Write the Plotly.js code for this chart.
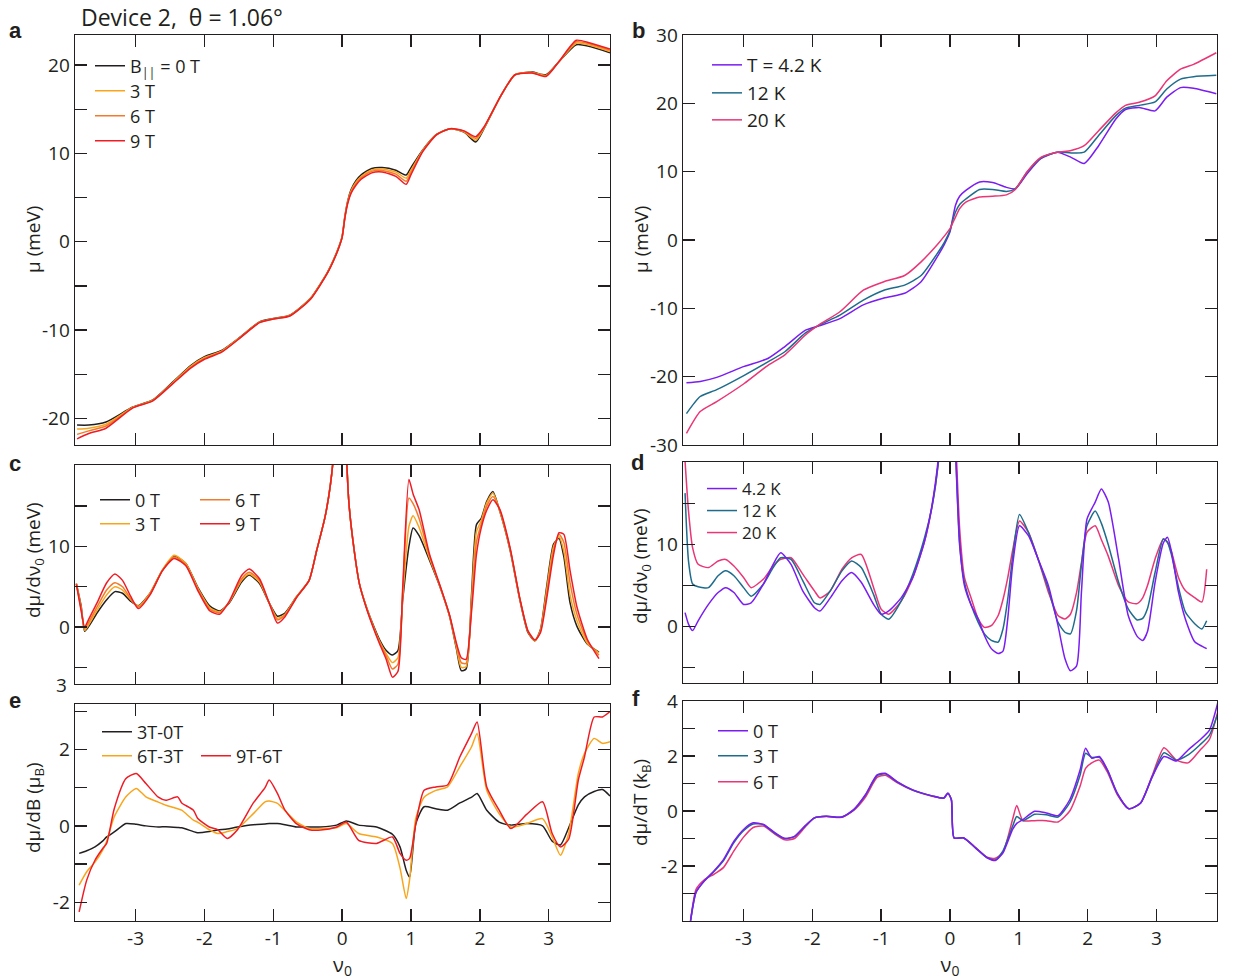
<!DOCTYPE html>
<html>
<head>
<meta charset="utf-8">
<script src="https://cdn.plot.ly/plotly-3.0.1.min.js"></script>
<style>html,body{margin:0;padding:0;background:#fff;} #chart{width:1233px;height:980px;}</style>
</head>
<body>
<div id="chart"></div>
<script>
// ---------------- DATA ----------------
// Panel a: mu vs nu0 for several in-plane fields
const nuA = [-3.85,-3.68,-3.43,-3.04,-2.75,-2.45,-2.2,-2.0,-1.75,-1.5,-1.2,-1.0,-0.76,-0.46,-0.21,-0.1,-0.04,0,0.04,0.08,0.13,0.2,0.28,0.43,0.58,0.78,0.93,1.0,1.17,1.37,1.57,1.77,1.94,2.06,2.31,2.51,2.76,2.96,3.15,3.4,3.6,3.89];
const muA_0T = [-20.75,-20.75,-20.4,-18.7,-17.9,-15.8,-14.0,-13.0,-12.3,-10.9,-9.06,-8.68,-8.3,-6.4,-3.4,-1.6,-0.4,0.6,2.9,4.6,5.9,6.9,7.6,8.3,8.4,8.1,7.55,8.4,10.4,12.15,12.8,12.4,11.3,12.8,16.6,18.9,19.2,18.9,20.4,22.3,22.1,21.4];
const muA_3T = [-21.2,-21.1,-20.65,-18.73,-17.93,-15.87,-14.1,-13.1,-12.37,-10.93,-9.09,-8.7,-8.33,-6.43,-3.43,-1.63,-0.43,0.57,2.83,4.5,5.77,6.73,7.4,8.13,8.23,7.9,7.2,8.1,10.33,12.13,12.8,12.45,11.5,12.87,16.6,18.9,19.17,18.83,20.4,22.47,22.23,21.53];
const muA_6T = [-21.8,-21.4,-20.85,-18.77,-17.97,-15.93,-14.2,-13.2,-12.43,-10.97,-9.12,-8.73,-8.37,-6.47,-3.47,-1.67,-0.47,0.53,2.77,4.4,5.63,6.57,7.25,7.97,8.07,7.65,6.85,7.85,10.27,12.12,12.8,12.5,11.7,12.93,16.6,18.9,19.13,18.77,20.4,22.63,22.37,21.67];
const muA_9T = [-22.3,-21.7,-21.1,-18.8,-18.0,-16.0,-14.3,-13.3,-12.5,-11.0,-9.15,-8.75,-8.4,-6.5,-3.5,-1.7,-0.5,0.5,2.7,4.3,5.5,6.4,7.1,7.8,7.9,7.4,6.5,7.6,10.2,12.1,12.8,12.55,11.9,13.0,16.6,18.9,19.1,18.7,20.4,22.8,22.5,21.8];

// Panel b: mu vs nu0 for several temperatures
const nuB = [-3.83,-3.63,-3.39,-2.99,-2.64,-2.40,-2.10,-1.90,-1.60,-1.26,-0.96,-0.66,-0.42,-0.17,-0.08,0,0.04,0.08,0.14,0.23,0.43,0.62,0.82,0.95,1.12,1.32,1.56,1.76,1.95,2.16,2.41,2.55,2.75,2.98,3.15,3.35,3.54,3.87];
const muB_4K = [-20.9,-20.7,-20.1,-18.5,-17.3,-15.6,-13.2,-12.55,-11.5,-9.5,-8.5,-7.8,-6.1,-2.2,-0.6,1.2,3.2,5.1,6.4,7.25,8.5,8.4,7.7,7.5,9.7,11.9,12.85,12.1,11.2,13.8,17.7,19.1,19.4,18.9,20.9,22.3,22.2,21.4];
const muB_12K = [-25.4,-22.9,-21.9,-19.8,-17.8,-16.35,-13.6,-12.45,-11.0,-8.8,-7.35,-6.6,-5.2,-1.75,-0.3,1.4,2.9,4.1,5.2,6.0,7.4,7.4,7.1,7.5,9.9,12.0,12.85,12.75,12.85,15.3,18.2,19.3,19.7,20.2,22.1,23.55,23.9,24.1];
const muB_20K = [-28.3,-25.1,-23.65,-21.0,-18.3,-16.8,-13.9,-12.4,-10.5,-7.35,-6.1,-5.2,-3.2,-0.5,0.6,1.65,2.5,3.35,4.6,5.55,6.3,6.4,6.6,7.4,10.0,12.1,12.85,13.1,13.8,16.0,18.6,19.7,20.15,21.1,23.3,25.0,25.7,27.4];

// Panel c: dmu/dnu0 for several in-plane fields
const nuC = [-3.86,-3.79,-3.74,-3.68,-3.56,-3.42,-3.30,-3.19,-3.07,-2.96,-2.79,-2.61,-2.44,-2.27,-2.10,-1.92,-1.78,-1.64,-1.46,-1.35,-1.2,-1.06,-0.94,-0.83,-0.66,-0.48,-0.37,-0.25,-0.17,-0.1,-0.04,0.02,0.06,0.10,0.175,0.25,0.35,0.44,0.54,0.64,0.73,0.81,0.88,0.97,1.03,1.12,1.27,1.42,1.56,1.66,1.73,1.8,1.88,1.95,2.02,2.1,2.19,2.29,2.44,2.58,2.7,2.8,2.88,2.97,3.07,3.15,3.22,3.31,3.41,3.56,3.73];
const dC_0T = [5.4,2.6,-0.5,0.1,1.75,3.4,4.4,4.2,3.2,2.65,4.2,7.06,8.8,7.9,5.0,2.6,2.0,3.0,5.6,6.45,5.4,3.0,1.35,1.75,3.8,5.8,9.5,13.6,17.7,24,35,35,22,15.2,9.5,5.4,2.56,0.5,-1.5,-2.9,-3.45,-2.9,3.4,10.0,12.3,11.3,8.25,5.0,1.35,-2.7,-5.4,-5.2,4.2,12.7,13.5,15.6,16.8,14.35,9.5,3.4,-0.7,-1.7,-0.3,5.0,10.3,11.0,8.7,3.0,0.1,-2.1,-3.1];
const dC_3T = [5.4,2.4,-0.4,0.3,2.1,4.0,5.0,4.6,3.4,2.6,4.2,7.1,8.9,7.9,4.9,2.4,1.9,3.1,5.8,6.6,5.6,3.0,1.1,1.6,3.8,5.8,9.5,13.6,17.7,24,35,35,22,15.2,9.5,5.4,2.5,0.4,-1.7,-3.3,-4.4,-3.8,3.8,12.5,13.8,12.3,8.5,5.1,1.4,-2.5,-5.0,-4.9,3.5,11.8,13.2,15.4,16.6,14.4,9.6,3.5,-0.6,-1.7,-0.4,4.6,10.0,11.2,9.4,4.0,0.8,-2.0,-3.2];
const dC_6T = [5.3,2.2,-0.2,0.6,2.5,4.6,5.5,5.0,3.5,2.5,4.1,7.0,8.7,7.7,4.8,2.2,1.8,3.1,6.0,6.8,5.8,3.0,0.9,1.5,3.7,5.8,9.5,13.6,17.7,24,35,35,22,15.2,9.5,5.4,2.5,0.3,-1.8,-3.6,-5.2,-4.6,4.4,16.0,15.3,13.4,8.8,5.1,1.4,-2.2,-4.4,-4.5,2.8,10.5,12.8,15.0,16.2,14.5,9.7,3.5,-0.5,-1.6,-0.5,4.0,9.5,11.5,10.5,5.5,1.6,-1.7,-3.5];
const dC_9T = [5.3,2.0,0.0,1.0,3.0,5.5,6.6,5.8,3.8,2.3,4.0,7.0,8.5,7.6,4.6,2.0,1.6,3.2,6.4,7.2,6.0,3.0,0.5,1.3,3.7,5.8,9.5,13.6,17.7,24,35,35,22,15.2,9.5,5.4,2.4,0.2,-2.0,-4.0,-6.2,-5.5,5.0,18.3,16.5,14.5,9.0,5.2,1.5,-2.0,-3.8,-4.0,2.0,9.0,12.3,14.5,15.8,14.6,9.8,3.6,-0.5,-1.6,-0.7,3.5,9.0,11.7,11.5,7.0,2.5,-1.5,-3.9];

// Panel d: dmu/dnu0 for several temperatures
const nuD = [-3.85,-3.8,-3.74,-3.66,-3.51,-3.37,-3.26,-3.14,-3.0,-2.89,-2.71,-2.57,-2.46,-2.31,-2.14,-1.97,-1.89,-1.74,-1.57,-1.43,-1.29,-1.11,-1.0,-0.89,-0.71,-0.54,-0.37,-0.26,-0.17,-0.08,0.0,0.07,0.14,0.21,0.31,0.41,0.5,0.6,0.7,0.77,0.84,0.91,1.01,1.14,1.28,1.43,1.57,1.67,1.75,1.84,1.91,1.99,2.11,2.2,2.3,2.45,2.59,2.72,2.8,2.87,2.98,3.1,3.16,3.22,3.32,3.42,3.56,3.66,3.73];
const dD_4K = [1.7,0.3,-0.5,0.7,2.7,4.15,4.75,4.15,2.7,2.9,5.2,7.6,9.0,7.6,4.35,2.3,1.9,3.5,5.6,6.6,5.4,2.7,1.5,1.9,3.5,6.0,10.4,14.9,20.5,30,40,24,10.3,5.0,2.56,0.93,-1.1,-2.7,-3.3,-3.0,1.0,7.5,12.3,11.1,8.25,5.0,0.1,-3.9,-5.4,-4.8,4.2,13.1,15.2,16.8,15.2,8.25,1.34,-1.2,-1.7,-0.6,5.4,10.2,10.9,9.1,4.2,0.93,-1.9,-2.4,-2.7];
const dD_12K = [16.3,8.0,5.2,4.85,4.75,6.2,6.8,6.2,4.75,3.7,5.2,7.2,8.4,8.2,5.6,2.9,2.7,4.35,6.8,8.0,7.2,3.9,1.5,0.9,3.1,6.4,10.85,14.7,20,30,40,24,9.9,5.4,2.56,0.5,-0.9,-1.7,-1.9,-0.3,3.4,8.5,13.7,11.5,8.25,4.6,0.5,-0.7,-0.9,2.0,7.5,12.3,14.1,12.6,10.0,5.4,2.15,0.8,1.0,2.2,6.6,10.7,10.3,8.7,4.8,1.8,0.3,-0.3,0.7];
const dD_20K = [20.2,14.1,9.6,7.6,7.2,8.0,8.2,7.4,6.0,4.75,5.8,7.4,8.2,8.4,6.4,4.35,3.5,4.35,7.0,8.4,8.8,4.75,2.1,1.5,3.1,6.0,10.4,14.7,20,30,40,26,12.0,6.0,3.4,0.93,-0.1,0.1,1.34,3.3,6.0,9.3,12.9,11.5,8.25,4.2,1.34,0.93,1.5,4.2,7.8,11.5,12.3,10.6,8.6,5.0,3.0,2.8,3.5,5.0,8.25,10.7,10.3,9.1,6.0,4.4,3.5,3.0,7.0];

// Panel e: dmu/dB
const nuE = [-3.82,-3.71,-3.59,-3.48,-3.42,-3.31,-3.14,-2.99,-2.85,-2.67,-2.56,-2.39,-2.33,-2.16,-2.1,-1.93,-1.81,-1.67,-1.52,-1.29,-1.12,-1.06,-0.94,-0.83,-0.66,-0.48,-0.31,-0.08,0.06,0.24,0.5,0.73,0.84,0.93,0.98,1.07,1.19,1.36,1.53,1.71,1.88,1.96,2.1,2.28,2.45,2.68,2.91,3.05,3.17,3.29,3.43,3.52,3.66,3.78,3.89];
const dE_3m0 = [-0.72,-0.65,-0.55,-0.4,-0.29,-0.16,0.06,0.04,0.0,-0.03,-0.02,-0.04,-0.05,-0.15,-0.18,-0.15,-0.11,-0.08,-0.03,0.03,0.05,0.06,0.06,0.03,-0.03,-0.03,-0.03,0.02,0.13,0.02,-0.03,-0.22,-0.55,-1.16,-1.34,0.06,0.5,0.45,0.41,0.6,0.75,0.85,0.41,0.1,0.02,0.06,0.0,-0.4,-0.5,-0.05,0.55,0.76,0.9,0.95,0.78];
const dE_6m3 = [-1.55,-1.2,-0.95,-0.64,-0.4,0.24,0.76,0.98,0.76,0.62,0.54,0.45,0.41,0.15,0.1,-0.1,-0.2,-0.15,-0.07,0.32,0.63,0.65,0.59,0.4,0.1,-0.07,-0.07,-0.05,0.06,-0.2,-0.29,-0.46,-1.1,-1.9,-1.4,0.2,0.75,0.93,1.02,1.55,2.07,2.42,0.93,0.32,-0.03,0.06,0.19,-0.29,-0.77,-0.2,1.37,1.9,2.29,2.16,2.2];
const dE_9m6 = [-2.25,-1.42,-0.9,-0.6,-0.46,0.45,1.24,1.37,1.11,0.75,0.67,0.76,0.6,0.41,0.2,-0.03,-0.1,-0.33,-0.1,0.6,1.0,1.2,0.85,0.41,0.05,-0.1,-0.11,-0.03,0.1,-0.38,-0.46,-0.29,-0.72,-0.9,-0.85,0.06,0.93,1.02,1.07,1.81,2.42,2.72,1.02,0.41,-0.07,0.3,0.63,-0.2,-0.55,-0.35,1.2,1.81,2.85,2.85,2.99];

// Panel f: dmu/dT
const nuF = [-3.77,-3.69,-3.57,-3.43,-3.29,-3.14,-3.0,-2.86,-2.71,-2.54,-2.4,-2.26,-2.11,-1.97,-1.8,-1.57,-1.4,-1.23,-1.06,-0.94,-0.77,-0.54,-0.26,-0.09,-0.03,0.02,0.06,0.2,0.37,0.54,0.66,0.77,0.91,0.97,1.06,1.23,1.4,1.57,1.74,1.89,1.97,2.06,2.17,2.29,2.43,2.6,2.77,2.94,3.11,3.29,3.46,3.63,3.77,3.9];
const dF_0T = [-3.99,-2.96,-2.54,-2.18,-1.76,-1.1,-0.67,-0.43,-0.49,-0.8,-1.0,-0.92,-0.55,-0.25,-0.19,-0.22,0.05,0.59,1.31,1.37,1.07,0.77,0.55,0.47,0.65,0.41,-0.98,-0.98,-1.34,-1.7,-1.8,-1.52,-0.67,-0.45,-0.31,-0.01,-0.07,-0.17,0.41,1.49,2.28,1.92,1.98,1.49,0.65,0.08,0.29,1.25,1.98,1.82,2.22,2.58,2.94,4.02];
const dF_3T = [-3.99,-2.95,-2.55,-2.2,-1.8,-1.15,-0.72,-0.47,-0.5,-0.82,-1.0,-0.93,-0.56,-0.25,-0.19,-0.22,0.04,0.57,1.29,1.35,1.06,0.76,0.55,0.47,0.65,0.41,-0.98,-0.98,-1.34,-1.7,-1.78,-1.45,-0.55,-0.2,-0.35,-0.12,-0.14,-0.22,0.3,1.3,2.1,1.95,1.95,1.47,0.64,0.08,0.29,1.25,2.12,1.85,2.04,2.4,2.76,3.6];
const dF_6T = [-3.99,-2.85,-2.5,-2.3,-2.05,-1.45,-0.95,-0.6,-0.55,-0.85,-1.05,-1.0,-0.6,-0.25,-0.2,-0.23,0.02,0.5,1.22,1.3,1.03,0.75,0.54,0.47,0.65,0.41,-0.98,-0.98,-1.32,-1.68,-1.72,-1.5,-0.3,0.2,-0.35,-0.35,-0.35,-0.4,0.0,0.9,1.55,1.75,1.85,1.4,0.6,0.08,0.29,1.3,2.3,1.85,1.75,2.2,2.6,3.7];

// Tick values / labels (labelled majors + unlabelled minors)
const xTickVals = [-3,-2,-1,0,1,2,3];
const xTickText = ['-3','-2','-1','0','1','2','3'];
const yTickValsA = [-20,-10,0,10,20];
const yTickTextA = ['-20','-10','0','10','20'];
const yMinorA = [-15,-5,5,15];
const yTickValsB = [-30,-20,-10,0,10,20,30];
const yTickTextB = ['-30','-20','-10','0','10','20','30'];
const yTickValsCD = [0,10];
const yTickTextCD = ['0','10'];
const yMinorCD = [-5,5,15];
const yTickValsE = [-2,0,2];
const yTickTextE = ['-2','0','2'];
const yMinorE = [-1,1,3];
const yTickValsF = [-2,0,2,4];
const yTickTextF = ['-2','0','2','4'];
const yMinorF = [-4,-3,-1,1,3];

// ---------------- STYLE / LAYOUT ----------------
const W = 1233, H = 980;
const px = x => x / W;
const py = y => 1 - y / H;
const FONT = 'Open Sans, Noto Sans, sans-serif';
const INK = '#231f20';
const C = {
  black: '#231f20', o3: '#f9a51c', o6: '#f37a2a', r9: '#ee1c25',
  purple: '#7a1cf2', teal: '#1e6c8c', pink: '#ea3576'
};

function tr(x, y, name, color, xa, ya, leg) {
  return {
    x: x, y: y, name: name, type: 'scatter', mode: 'lines',
    line: {color: color, width: 1.5, shape: 'spline', smoothing: 0.6},
    xaxis: xa, yaxis: ya, legend: leg, hoverinfo: 'skip'
  };
}

const data = [
  tr(nuA, muA_0T, 'B<sub>||</sub> = 0 T', C.black, 'x', 'y', 'legend'),
  tr(nuA, muA_3T, '3 T', C.o3, 'x', 'y', 'legend2'),
  tr(nuA, muA_6T, '6 T', C.o6, 'x', 'y', 'legend3'),
  tr(nuA, muA_9T, '9 T', C.r9, 'x', 'y', 'legend4'),

  tr(nuB, muB_4K, 'T = 4.2 K', C.purple, 'x2', 'y2', 'legend5'),
  tr(nuB, muB_12K, '12 K', C.teal, 'x2', 'y2', 'legend6'),
  tr(nuB, muB_20K, '20 K', C.pink, 'x2', 'y2', 'legend7'),

  tr(nuC, dC_0T, '0 T', C.black, 'x3', 'y3', 'legend8'),
  tr(nuC, dC_3T, '3 T', C.o3, 'x3', 'y3', 'legend9'),
  tr(nuC, dC_6T, '6 T', C.o6, 'x3', 'y3', 'legend10'),
  tr(nuC, dC_9T, '9 T', C.r9, 'x3', 'y3', 'legend11'),

  tr(nuD, dD_20K, '20 K', C.pink, 'x4', 'y4', 'legend14'),
  tr(nuD, dD_12K, '12 K', C.teal, 'x4', 'y4', 'legend13'),
  tr(nuD, dD_4K, '4.2 K', C.purple, 'x4', 'y4', 'legend12'),

  tr(nuE, dE_3m0, '3T-0T', C.black, 'x5', 'y5', 'legend15'),
  tr(nuE, dE_6m3, '6T-3T', C.o3, 'x5', 'y5', 'legend16'),
  tr(nuE, dE_9m6, '9T-6T', C.r9, 'x5', 'y5', 'legend17'),

  tr(nuF, dF_6T, '6 T', C.pink, 'x6', 'y6', 'legend20'),
  tr(nuF, dF_3T, '3 T', C.teal, 'x6', 'y6', 'legend19'),
  tr(nuF, dF_0T, '0 T', C.purple, 'x6', 'y6', 'legend18')
];

function axisBase(extra, minorVals) {
  const a = Object.assign({
    showline: true, linecolor: INK, linewidth: 1.4, mirror: 'ticks',
    ticks: 'inside', ticklen: 12, tickwidth: 1.4, tickcolor: INK,
    showgrid: false, zeroline: false, fixedrange: true,
    tickfont: {family: FONT, size: 19, color: INK}, tickmode: 'array'
  }, extra);
  if (minorVals) {
    a.minor = {tickmode: 'array', tickvals: minorVals, ticks: 'inside', ticklen: 12, tickwidth: 1.4, tickcolor: INK, showgrid: false};
  }
  return a;
}
const leftX = [75 / W, 610 / W], rightX = [683 / W, 1217 / W];
const xRangeL = [-3.88, 3.89], xRangeR = [-3.88, 3.88];
const xTitle = {text: 'ν<sub>0</sub>', font: {family: FONT, size: 20, color: INK}, standoff: 4};

const layout = {
  width: W, height: H,
  margin: {l: 0, r: 0, t: 0, b: 0},
  paper_bgcolor: '#ffffff', plot_bgcolor: 'rgba(0,0,0,0)',
  font: {family: FONT, color: INK, size: 19},
  showlegend: true,
  xaxis: axisBase({domain: leftX, range: xRangeL, anchor: 'y', tickvals: xTickVals, ticktext: xTickText, showticklabels: false}),
  yaxis: axisBase({domain: [py(445), py(35)], range: [-23.0, 23.4], anchor: 'x', tickvals: yTickValsA, ticktext: yTickTextA}, yMinorA),
  xaxis2: axisBase({domain: rightX, range: xRangeR, anchor: 'y2', tickvals: xTickVals, ticktext: xTickText, showticklabels: false}),
  yaxis2: axisBase({domain: [py(445), py(35)], range: [-30, 30], anchor: 'x2', tickvals: yTickValsB, ticktext: yTickTextB}),
  xaxis3: axisBase({domain: leftX, range: xRangeL, anchor: 'y3', tickvals: xTickVals, ticktext: xTickText, showticklabels: false}),
  yaxis3: axisBase({domain: [py(684), py(465)], range: [-7.05, 20.1], anchor: 'x3', tickvals: yTickValsCD, ticktext: yTickTextCD}, yMinorCD),
  xaxis4: axisBase({domain: rightX, range: xRangeR, anchor: 'y4', tickvals: xTickVals, ticktext: xTickText, showticklabels: false}),
  yaxis4: axisBase({domain: [py(683), py(462)], range: [-6.9, 20.1], anchor: 'x4', tickvals: yTickValsCD, ticktext: yTickTextCD}, yMinorCD),
  xaxis5: axisBase({domain: leftX, range: xRangeL, anchor: 'y5', tickvals: xTickVals, ticktext: xTickText, title: xTitle}),
  yaxis5: axisBase({domain: [py(921), py(704)], range: [-2.49, 3.19], anchor: 'x5', tickvals: yTickValsE, ticktext: yTickTextE}, yMinorE),
  xaxis6: axisBase({domain: rightX, range: xRangeR, anchor: 'y6', tickvals: xTickVals, ticktext: xTickText, title: xTitle}),
  yaxis6: axisBase({domain: [py(921), py(701)], range: [-4, 4], anchor: 'x6', tickvals: yTickValsF, ticktext: yTickTextF}, yMinorF),
  annotations: [],
  shapes: []
};

// Legends: one per entry so rows sit exactly where the reference puts them
const legendPos = {
  legend: [95, 66, 18], legend2: [95, 91, 18], legend3: [95, 116, 18], legend4: [95, 141, 18],
  legend5: [712, 65, 19], legend6: [712, 93, 19], legend7: [712, 120, 19],
  legend8: [100, 500, 18], legend9: [100, 524, 18], legend10: [200, 500, 18], legend11: [200, 524, 18],
  legend12: [707, 489, 17], legend13: [707, 511, 17], legend14: [707, 533, 17],
  legend15: [102, 732, 18], legend16: [102, 756, 18], legend17: [201, 756, 18],
  legend18: [718, 731, 18], legend19: [718, 756, 18], legend20: [718, 782, 18]
};
Object.keys(legendPos).forEach(k => {
  const p = legendPos[k];
  layout[k] = {
    x: px(p[0] - 5), y: py(p[1]), xanchor: 'left', yanchor: 'middle',
    bgcolor: 'rgba(0,0,0,0)', borderwidth: 0, itemwidth: 30,
    font: {family: FONT, size: p[2], color: INK}, itemclick: false, itemdoubleclick: false
  };
});

function ann(text, x, y, opts) {
  return Object.assign({
    text: text, x: px(x), y: py(y), xref: 'paper', yref: 'paper',
    showarrow: false, xanchor: 'center', yanchor: 'middle',
    font: {family: FONT, size: 19, color: INK}
  }, opts || {});
}
const letterFont = {family: 'Liberation Sans, Arial, sans-serif', size: 22, color: INK, weight: 'bold'};
layout.annotations.push(
  ann('Device 2,  θ = 1.06°', 79, 17, {xanchor: 'left', font: {family: FONT, size: 23, color: INK}}),
  ann('<b>a</b>', 15, 30, {font: letterFont}),
  ann('<b>b</b>', 638, 30, {font: letterFont}),
  ann('<b>c</b>', 15, 463, {font: letterFont}),
  ann('<b>d</b>', 637, 462, {font: letterFont}),
  ann('<b>e</b>', 15, 700, {font: letterFont}),
  ann('<b>f</b>', 636, 698, {font: letterFont}),
  ann('μ (meV)', 33, 240, {textangle: -90}),
  ann('μ (meV)', 641, 240, {textangle: -90}),
  ann('dμ/dν<sub>0</sub> (meV)', 34, 560, {textangle: -90}),
  ann('dμ/dν<sub>0</sub> (meV)', 641, 566, {textangle: -90}),
  ann('dμ/dB (μ<sub>B</sub>)', 34, 808, {textangle: -90}),
  ann('dμ/dT (k<sub>B</sub>)', 641, 803, {textangle: -90}),
  ann('3', 61, 685)
);

Plotly.newPlot('chart', data, layout, {staticPlot: true, displayModeBar: false});
</script>
</body>
</html>
